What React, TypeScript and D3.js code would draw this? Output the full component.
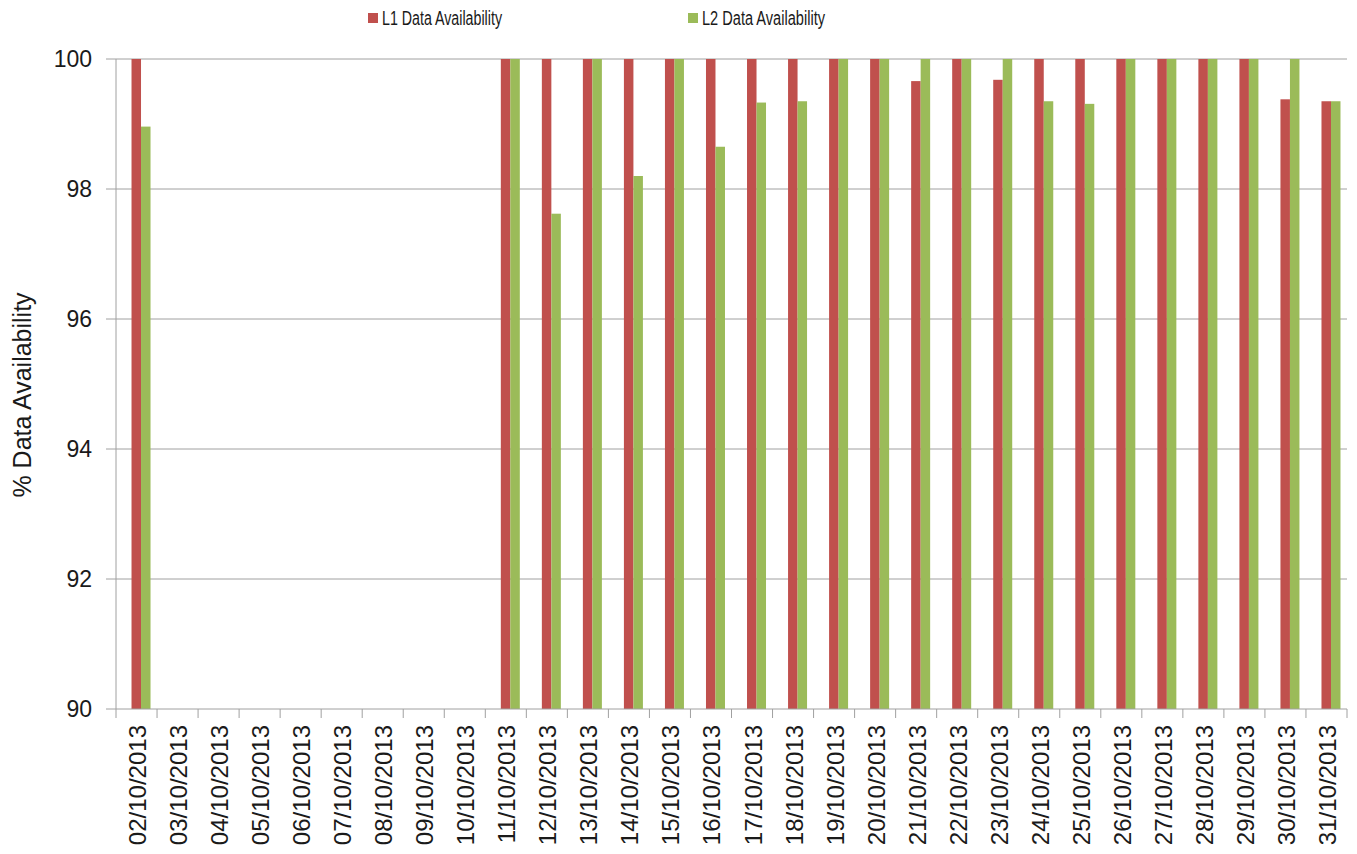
import React from "react";
import * as d3 from "d3";

const dates = [
  "02/10/2013","03/10/2013","04/10/2013","05/10/2013","06/10/2013","07/10/2013",
  "08/10/2013","09/10/2013","10/10/2013","11/10/2013","12/10/2013","13/10/2013",
  "14/10/2013","15/10/2013","16/10/2013","17/10/2013","18/10/2013","19/10/2013",
  "20/10/2013","21/10/2013","22/10/2013","23/10/2013","24/10/2013","25/10/2013",
  "26/10/2013","27/10/2013","28/10/2013","29/10/2013","30/10/2013","31/10/2013",
];
const l1Values: (number | null)[] = [
  100, null, null, null, null, null, null, null, null, 100, 100, 100,
  100, 100, 100, 100, 100, 100, 100, 99.66, 100, 99.68, 100, 100,
  100, 100, 100, 100, 99.38, 99.35,
];
const l2Values: (number | null)[] = [
  98.96, null, null, null, null, null, null, null, null, 100, 97.62, 100,
  98.2, 100, 98.65, 99.33, 99.35, 100, 100, 100, 100, 100, 99.35, 99.31,
  100, 100, 100, 100, 100, 99.35,
];
const seriesNames = ["L1 Data Availability", "L2 Data Availability"];
const seriesColors = ["#C0504D", "#9BBB59"];
const yTicks = [90, 92, 94, 96, 98, 100];

const W = 1357, H = 854;
const left = 116, right = 1347, top = 59, bottom = 709;
const FONT = "'Liberation Sans', Arial, sans-serif";

export default function App() {
  const x = d3.scaleBand<string>().domain(dates).range([left, right]).padding(0);
  const y = d3.scaleLinear().domain([90, 100]).range([bottom, top]);
  const sub = d3.scaleBand<string>().domain(seriesNames).range([0, 19]).padding(0);
  const allSeries = [l1Values, l2Values];

  return (
    <svg width={W} height={H} style={{ position: "absolute", left: 0, top: 0, background: "#fff" }}>
      {yTicks.map((t) => (
        <g key={t}>
          {t !== 90 && (
            <line x1={left} x2={right} y1={y(t)} y2={y(t)} stroke="#A0A0A0" strokeWidth={1} />
          )}
          <line x1={left - 10} x2={left} y1={y(t)} y2={y(t)} stroke="#A0A0A0" strokeWidth={1} />
          <text x={92} y={y(t)} textAnchor="end" dominantBaseline="central" fontFamily={FONT} fontSize={23} fill="#1a1a1a">
            {t}
          </text>
        </g>
      ))}
      {allSeries.map((vals, si) =>
        vals.map((v, i) =>
          v == null ? null : (
            <rect
              key={`${si}-${i}`}
              x={(x(dates[i]) as number) + x.bandwidth() / 2 - 5 + (sub(seriesNames[si]) as number)}
              y={y(v)}
              width={sub.bandwidth()}
              height={y(90) - y(v)}
              fill={seriesColors[si]}
            />
          )
        )
      )}
      <line x1={left} x2={left} y1={top} y2={bottom} stroke="#A0A0A0" strokeWidth={1} />
      <line x1={left} x2={right} y1={bottom} y2={bottom} stroke="#A0A0A0" strokeWidth={1} />
      {dates.map((d) => (
        <line key={"t" + d} x1={(x(d) as number) + x.bandwidth()} x2={(x(d) as number) + x.bandwidth()} y1={bottom} y2={bottom + 9} stroke="#A0A0A0" />
      ))}
      <line x1={left} x2={left} y1={bottom} y2={bottom + 9} stroke="#A0A0A0" />
      {dates.map((d) => {
        const cx = (x(d) as number) + x.bandwidth() / 2 + 1;
        return (
          <text
            key={"l" + d}
            transform={`translate(${cx},${bottom + 16}) rotate(-90)`}
            textAnchor="end"
            dominantBaseline="central"
            fontFamily={FONT}
            fontSize={24}
            fill="#1a1a1a"
          >
            {d}
          </text>
        );
      })}
      <text
        transform={`translate(22,${395}) rotate(-90)`}
        textAnchor="middle"
        dominantBaseline="central"
        fontFamily={FONT}
        fontSize={25}
        fill="#1a1a1a"
      >
        % Data Availability
      </text>
      {seriesNames.map((s, i) => {
        const lx = i === 0 ? 368 : 688;
        return (
          <g key={s}>
            <rect x={lx} y={13} width={10} height={10} fill={seriesColors[i]} />
            <text x={lx + 14} y={18} dominantBaseline="central" fontFamily={FONT} fontSize={20} fill="#1a1a1a" textLength={i === 0 ? 120 : 123} lengthAdjust="spacingAndGlyphs">
              {s}
            </text>
          </g>
        );
      })}
    </svg>
  );
}
